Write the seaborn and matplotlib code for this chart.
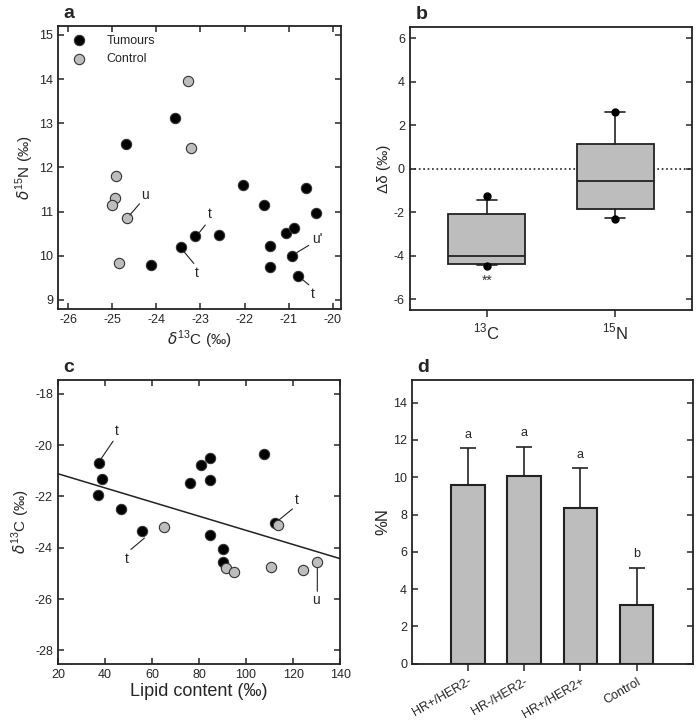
import seaborn as sns
import matplotlib.pyplot as plt
import numpy as np
import pandas as pd

sns.set_style("ticks")
plt.rcParams['font.family'] = ['Liberation Sans', 'DejaVu Sans']
plt.rcParams['mathtext.fontset'] = 'custom'
plt.rcParams['mathtext.rm'] = 'Liberation Sans'
plt.rcParams['axes.unicode_minus'] = False

GREY = "#bdbdbd"

# --- panel a data: d13C vs d15N ---
tum_c13 = [-24.68, -23.57, -22.03, -21.55, -20.62, -20.39, -21.07, -20.87,
           -21.42, -20.92, -21.42, -20.78, -22.57, -23.12, -23.43, -24.13]
tum_n15 = [12.53, 13.12, 11.60, 11.14, 11.53, 10.96, 10.52, 10.62,
           10.23, 9.99, 9.74, 9.55, 10.47, 10.44, 10.20, 9.80]
ctl_c13 = [-23.28, -23.21, -24.91, -24.94, -25.00, -24.66, -24.85]
ctl_n15 = [13.95, 12.44, 11.80, 11.31, 11.14, 10.85, 9.83]

# --- panel b data: box stats for delta delta ---
box_names = ["$^{13}$C", "$^{15}$N"]
box_q1 = [-4.37, -1.84]
box_med = [-4.02, -0.54]
box_q3 = [-2.07, 1.15]
box_lo = [-4.40, -2.26]
box_hi = [-1.42, 2.59]
box_fliers = [[-1.26, -4.45], [2.62, -2.29]]

# --- panel c data: lipid content vs d13C ---
tum_lipid = [37.3, 38.9, 36.9, 46.7, 55.9, 76.1, 80.8, 84.6, 84.6, 84.6,
             90.0, 90.3, 107.6, 112.4]
tum_c13b = [-20.69, -21.32, -21.94, -22.47, -23.34, -21.47, -20.77, -20.50,
            -21.34, -23.49, -24.05, -24.57, -20.33, -23.03]
ctl_lipid = [65.0, 91.4, 94.8, 113.7, 110.5, 124.1, 130.3]
ctl_c13b = [-23.20, -24.80, -24.93, -23.12, -24.76, -24.85, -24.55]
fit_slope = -0.0276
fit_intercept = -20.56

# --- panel d data: %N ---
groups = ["HR+/HER2-", "HR-/HER2-", "HR+/HER2+", "Control"]
pct_n = [9.61, 10.08, 8.33, 3.17]
pct_err = [1.94, 1.56, 2.14, 1.99]
letters = ["a", "a", "a", "b"]

fig = plt.figure(figsize=(6.97, 7.23), dpi=100)
ax_a = fig.add_axes([0.083, 0.573, 0.406, 0.391])
ax_b = fig.add_axes([0.588, 0.571, 0.405, 0.391])
ax_c = fig.add_axes([0.083, 0.082, 0.405, 0.392])
ax_d = fig.add_axes([0.591, 0.082, 0.403, 0.392])

for ax in (ax_a, ax_b, ax_c, ax_d):
    for sp in ax.spines.values():
        sp.set_linewidth(1.3)
        sp.set_color("#222222")
    ax.tick_params(labelsize=9, width=1.1, length=4)

pt_kw = dict(s=55, marker="o", linewidth=0.8, edgecolor="#333333", zorder=3)
line_kw = dict(arrowstyle="-", lw=0.8, color="#222222", shrinkA=1, shrinkB=0)

# ---------- a ----------
sns.scatterplot(x=tum_c13, y=tum_n15, color="black", ax=ax_a, label="Tumours", **pt_kw)
sns.scatterplot(x=ctl_c13, y=ctl_n15, color=GREY, ax=ax_a, label="Control", **pt_kw)
ax_a.set_xlim(-26.23, -19.82)
ax_a.set_ylim(8.8, 15.2)
ax_a.set_xticks(range(-26, -19))
ax_a.set_yticks(range(9, 16))
ax_a.tick_params(direction="in", top=True, right=True)
ax_a.set_xlabel(r"$\delta^{13}$C (‰)", fontsize=11, labelpad=2)
ax_a.set_ylabel(r"$\delta^{15}$N (‰)", fontsize=11, labelpad=2)
ax_a.legend(loc="upper left", frameon=False, fontsize=9, handletextpad=1.2,
            borderaxespad=0.3, markerscale=1.0)
for txt, xy, xyt, pos in [("u", (-24.6, 10.92), (-24.25, 11.38), (-24.36, 11.2)),
                          ("t", (-23.03, 10.52), (-22.78, 10.95), (-22.87, 10.72)),
                          ("t", (-23.38, 10.1), (-23.08, 9.6), (-23.13, 9.8)),
                          ("u'", (-20.82, 10.07), (-20.36, 10.38), (-20.52, 10.25)),
                          ("t", (-20.7, 9.47), (-20.46, 9.14), (-20.52, 9.32))]:
    ax_a.text(xyt[0], xyt[1], txt, fontsize=10, ha="center", va="center")
    ax_a.annotate("", xy=xy, xytext=pos, arrowprops=line_kw)

# ---------- b ----------
stats = []
for i in range(2):
    stats.append(dict(med=box_med[i], q1=box_q1[i], q3=box_q3[i],
                      whislo=box_lo[i], whishi=box_hi[i], fliers=box_fliers[i]))
ax_b.bxp(stats, positions=[0, 1], widths=0.6, patch_artist=True,
         boxprops=dict(facecolor=GREY, edgecolor="#222222", linewidth=1.3),
         medianprops=dict(color="#222222", linewidth=1.3),
         whiskerprops=dict(color="#222222", linewidth=1.2),
         capprops=dict(color="#222222", linewidth=1.2), capwidths=0.16,
         flierprops=dict(marker="o", markerfacecolor="black", markeredgecolor="black",
                         markersize=5))
ax_b.axhline(0, color="#222222", linestyle=":", linewidth=1.2, zorder=0)
ax_b.text(0, -5.16, "**", ha="center", va="center", fontsize=10, color="#333333")
ax_b.set_xlim(-0.6, 1.6)
ax_b.set_ylim(-6.5, 6.5)
ax_b.set_yticks(range(-6, 7, 2))
ax_b.set_xticks([0, 1])
ax_b.set_xticklabels(box_names, fontsize=12)
ax_b.tick_params(axis="y", direction="in", right=True)
ax_b.tick_params(axis="x", direction="out", length=5)
ax_b.set_ylabel("Δδ (‰)", fontsize=11, labelpad=2)

# ---------- c ----------
sns.scatterplot(x=tum_lipid, y=tum_c13b, color="black", ax=ax_c, **pt_kw)
sns.scatterplot(x=ctl_lipid, y=ctl_c13b, color=GREY, ax=ax_c, **pt_kw)
fit_x = np.array([20, 140])
sns.lineplot(x=fit_x, y=fit_intercept + fit_slope * fit_x, color="#222222",
             linewidth=1.1, ax=ax_c, zorder=2)
ax_c.set_xlim(20, 140)
ax_c.set_ylim(-28.52, -17.47)
ax_c.set_xticks(range(20, 141, 20))
ax_c.set_yticks(range(-28, -17, 2))
ax_c.tick_params(direction="in", top=True, right=True)
ax_c.set_xlabel("Lipid content (‰)", fontsize=13, labelpad=2)
ax_c.set_ylabel(r"$\delta^{13}$C (‰)", fontsize=11, labelpad=2)
for txt, xy, xyt, pos in [("t", (38.6, -20.5), (45.0, -19.45), (43.8, -19.8)),
                          ("t", (56.8, -23.62), (49.2, -24.45), (50.6, -24.1)),
                          ("t", (114.2, -22.9), (121.6, -22.15), (120.2, -22.45)),
                          ("u", (130.3, -24.8), (129.9, -26.05), (130.3, -25.75))]:
    ax_c.text(xyt[0], xyt[1], txt, fontsize=10, ha="center", va="center")
    ax_c.annotate("", xy=xy, xytext=pos, arrowprops=line_kw)

# ---------- d ----------
df_d = pd.DataFrame({"group": groups, "pct": pct_n})
sns.barplot(data=df_d, x="group", y="pct", color=GREY, edgecolor="#222222",
            linewidth=1.5, width=0.6, saturation=1, ax=ax_d, zorder=2)
ax_d.errorbar(range(4), pct_n, yerr=[[0] * 4, pct_err], fmt="none",
              ecolor="#222222", elinewidth=1.2, capsize=6, capthick=1.2, zorder=1)
for i, lt in enumerate(letters):
    ax_d.text(i, pct_n[i] + pct_err[i] + 0.4, lt, ha="center", va="bottom", fontsize=9)
ax_d.set_xlim(-1, 4)
ax_d.set_ylim(0, 15.2)
ax_d.set_yticks(range(0, 15, 2))
ax_d.tick_params(axis="y", direction="in", right=True)
ax_d.tick_params(axis="x", direction="out", length=5)
ax_d.set_xticks(range(4))
ax_d.set_xticklabels(groups, rotation=30, ha="right", rotation_mode="anchor", fontsize=9)
ax_d.set_xlabel("")
ax_d.set_ylabel("%N", fontsize=12, labelpad=2)

for ax, lab in [(ax_a, "a"), (ax_b, "b"), (ax_c, "c"), (ax_d, "d")]:
    ax.text(0.02, 1.015, lab, transform=ax.transAxes, fontsize=14,
            fontweight="bold", ha="left", va="bottom")

fig.savefig("out.png", dpi=100)
